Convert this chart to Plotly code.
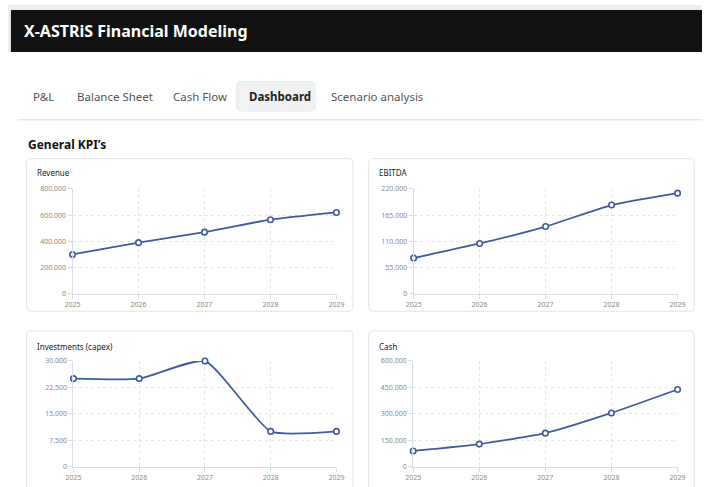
import plotly.graph_objects as go

W, H = 710, 487

years = [2025, 2026, 2027, 2028, 2029]
revenue = [300000, 390000, 470000, 565000, 620000]
ebitda = [75000, 105500, 141000, 186000, 211000]
capex = [25000, 25000, 30000, 10000, 10000]
cash = [89000, 128000, 190000, 305000, 438000]

chart_titles = ["Revenue", "EBITDA", "Investments (capex)", "Cash"]
revenue_ticks = [0, 200000, 400000, 600000, 800000]
ebitda_ticks = [0, 55000, 110000, 165000, 220000]
capex_ticks = [0, 7500, 15000, 22500, 30000]
cash_ticks = [0, 150000, 300000, 450000, 600000]
tabs = ["P&L", "Balance Sheet", "Cash Flow", "Dashboard", "Scenario analysis"]
tab_x = [24, 69, 167, 245, 328]

FONT = "Noto Sans"
LINE = "#3f5d9e"


def px(x):
    return x / W


def py(y):
    return 1 - y / H


def rrect(x0, y0, x1, y1, r):
    pts = [
        ("M", (x0 + r, y0)),
        ("L", (x1 - r, y0)),
        ("Q", (x1, y0), (x1, y0 + r)),
        ("L", (x1, y1 - r)),
        ("Q", (x1, y1), (x1 - r, y1)),
        ("L", (x0 + r, y1)),
        ("Q", (x0, y1), (x0, y1 - r)),
        ("L", (x0, y0 + r)),
        ("Q", (x0, y0), (x0 + r, y0)),
    ]
    s = ""
    for p in pts:
        s += p[0] + " " + " ".join(f"{px(a):.5f},{py(b):.5f}" for a, b in p[1:]) + " "
    return s + "Z"


def fmt(v):
    return f"{v:,}".replace(",", ".")


fig = go.Figure()

shapes = []
annotations = []

# header
shapes.append(dict(type="rect", xref="paper", yref="paper", x0=0, x1=1, y0=py(48), y1=1,
                   fillcolor="#eeeeee", line_width=0, layer="below"))
shapes.append(dict(type="rect", xref="paper", yref="paper", x0=px(3), x1=1, y0=py(48), y1=py(5),
                   fillcolor="#111111", line_width=0, layer="below"))
annotations.append(dict(text="<b>X-ASTRiS Financial Modeling</b>", x=px(14), y=py(26), xref="paper",
                        yref="paper", xanchor="left", yanchor="middle", showarrow=False,
                        font=dict(family=FONT, size=16, color="white")))

# tabs
shapes.append(dict(type="path", xref="paper", yref="paper", path=rrect(234, 78, 314, 108, 5),
                   fillcolor="#f1f2f4", line=dict(color="#e8e9ec", width=1), layer="below"))
for t, x in zip(tabs, tab_x):
    sel = t == "Dashboard"
    annotations.append(dict(text=f"<b>{t}</b>" if sel else t, x=px(x), y=py(93), xref="paper",
                            yref="paper", xanchor="left", yanchor="middle", showarrow=False,
                            font=dict(family=FONT, size=11.5, color="#222" if sel else "#555")))
shapes.append(dict(type="line", xref="paper", yref="paper", x0=px(10), x1=1, y0=py(117), y1=py(117),
                   line=dict(color="#e8e8e8", width=1.5), layer="below"))
annotations.append(dict(text="<b>General KPI’s</b>", x=px(18), y=py(142), xref="paper", yref="paper",
                        xanchor="left", yanchor="middle", showarrow=False,
                        font=dict(family=FONT, size=12, color="#111")))

# cards
cards = [(19, 156.5, 353, 312), (369, 156.5, 702, 312), (19, 332, 353, 500), (369, 332, 702, 500)]
for c in cards:
    shapes.append(dict(type="path", xref="paper", yref="paper", path=rrect(*c, 5),
                       fillcolor="white", line=dict(color="#e2e4e8", width=1), layer="below"))

plots = [
    (66, 336, 187.3, 294.3, revenue, revenue_ticks),
    (415, 685, 187.3, 294.3, ebitda, ebitda_ticks),
    (67, 336, 362.7, 470.3, capex, capex_ticks),
    (414.5, 685, 362.7, 470.3, cash, cash_ticks),
]
title_pos = [(28, 171), (377, 171), (28, 347.5), (377, 347.5)]

for i, ((x0, x1, y0, y1, vals, ticks), title, tp) in enumerate(zip(plots, chart_titles, title_pos)):
    n = "" if i == 0 else str(i + 1)
    fig.add_trace(go.Scatter(
        x=years, y=vals, mode="lines+markers", xaxis="x" + n, yaxis="y" + n,
        line=dict(color=LINE, width=1.8, shape="spline", smoothing=0.5),
        marker=dict(symbol="circle", size=5.5, color="white", line=dict(color=LINE, width=1.6)),
        cliponaxis=False, showlegend=False, hoverinfo="x+y"))
    common = dict(showgrid=True, gridcolor="#e6e6e6", griddash="dot", gridwidth=1,
                  showline=True, linecolor="#d9dde5", linewidth=1, ticks="outside",
                  ticklen=4, tickcolor="#d9dde5", zeroline=False,
                  tickfont=dict(family=FONT, size=7, color="#8a8a8a"), fixedrange=True)
    fig.update_layout(**{
        "xaxis" + n: dict(domain=[px(x0), px(x1)], range=[2025, 2029], tickvals=years,
                          ticktext=[str(y) for y in years], anchor="y" + n, **common),
        "yaxis" + n: dict(domain=[py(y1), py(y0)], range=[0, ticks[-1]], tickvals=ticks,
                          ticktext=[fmt(v) for v in ticks], anchor="x" + n, **common),
    })
    annotations.append(dict(text=title, x=px(tp[0]), y=py(tp[1]), xref="paper", yref="paper",
                            xanchor="left", yanchor="middle", showarrow=False,
                            font=dict(family=FONT, size=8, color="#222")))

fig.update_layout(width=W, height=H, autosize=False, margin=dict(l=0, r=0, t=0, b=0),
                  paper_bgcolor="white", plot_bgcolor="rgba(0,0,0,0)",
                  shapes=shapes, annotations=annotations)

fig.write_html("out.html", config={"displayModeBar": False, "responsive": False},
               post_script="document.body.style.margin='0';document.body.style.overflow='hidden';")
